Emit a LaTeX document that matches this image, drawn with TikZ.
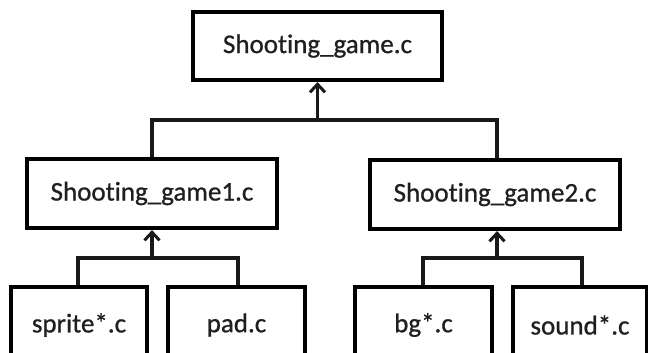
\documentclass[tikz,border=0pt]{standalone}
\usepackage{fontspec}
\setmainfont{Carlito}[Ligatures=NoCommon,FakeBold=0.8]
\usetikzlibrary{arrows.meta}
\begin{document}
\begin{tikzpicture}[x=1pt,y=-1pt,
  filebox/.style={draw=black,line width=4.2pt,fill=white,inner sep=0pt,
    font=\fontsize{27}{30}\selectfont,text=black!88},
  link/.style={line width=3.4pt,draw=black!90},
  uparrow/.style={link,-{Straight Barb[length=8pt,width=15pt,line width=3pt]}}]
\useasboundingbox (0,0) rectangle (648,353);
\clip (0,0) rectangle (648,353);

% source files
\node[filebox,minimum width=249pt,minimum height=68pt] (top) at (317.5,46) {Shooting\_game.c};
\node[filebox,minimum width=250pt,minimum height=69pt] (g1) at (152,193.5) {Shooting\_game1.c};
\node[filebox,minimum width=250pt,minimum height=69pt] (g2) at (495,194.5) {Shooting\_game2.c};
\node[filebox,minimum width=136pt,minimum height=76pt] (sprite) at (79,325) {sprite*.c};
\node[filebox,minimum width=137pt,minimum height=76pt] (pad) at (236.5,325) {pad.c};
\node[filebox,minimum width=137pt,minimum height=76pt] (bg) at (423.5,325) {bg*.c};
\node[filebox,minimum width=134pt,minimum height=76pt] (sound) at (580,325) {sound*.c};

% junction points of the include tree
\coordinate (j0) at (317.5,120);
\coordinate (j1) at (152,258);
\coordinate (j2) at (497,258);

% level 1 -> top
\draw[link] (g1.north) |- (j0) -| (g2.north -| j2);
\draw[uparrow] (j0) -- (top.south);

% level 2 -> level 1
\draw[link] (sprite.north -| 78,0) |- (j1) -| (pad.north -| 238,0);
\draw[uparrow] (j1) -- (g1.south);
\draw[link] (bg.north -| 423,0) |- (j2) -| (sound.north -| 582,0);
\draw[uparrow] (j2) -- (g2.south -| j2);
\end{tikzpicture}
\end{document}
